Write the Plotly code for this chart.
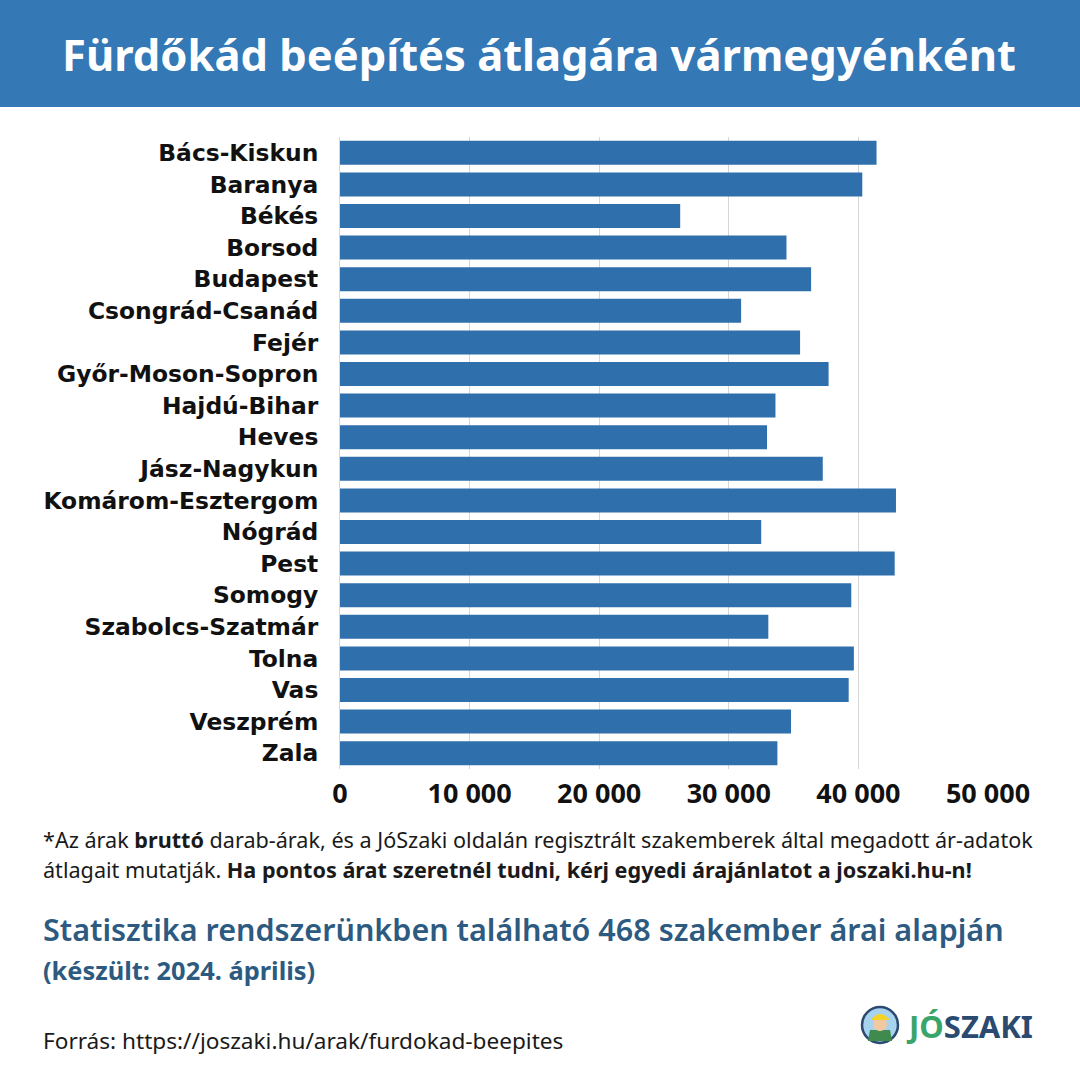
import plotly.graph_objects as go

counties = ["Bács-Kiskun", "Baranya", "Békés", "Borsod", "Budapest", "Csongrád-Csanád",
            "Fejér", "Győr-Moson-Sopron", "Hajdú-Bihar", "Heves", "Jász-Nagykun",
            "Komárom-Esztergom", "Nógrád", "Pest", "Somogy", "Szabolcs-Szatmár",
            "Tolna", "Vas", "Veszprém", "Zala"]
prices = [41400, 40300, 26250, 34450, 36350, 30950, 35500, 37700, 33600, 32950,
          37250, 42900, 32500, 42800, 39450, 33050, 39650, 39250, 34800, 33750]
tick_vals = [0, 10000, 20000, 30000, 40000, 50000]
tick_text = ["0", "10 000", "20 000", "30 000", "40 000", "50 000"]

title = "Fürdőkád beépítés átlagára vármegyénként"
note1 = "*Az árak <b>bruttó</b> darab-árak, és a JóSzaki oldalán regisztrált szakemberek által megadott ár-adatok"
note2 = "átlagait mutatják. <b>Ha pontos árat szeretnél tudni, kérj egyedi árajánlatot a joszaki.hu-n!</b>"
stat1 = "Statisztika rendszerünkben található 468 szakember árai alapján"
stat2 = "(készült: 2024. április)"
source = "Forrás: https://joszaki.hu/arak/furdokad-beepites"

W = H = 1080
L, R, T, B = 340, 988, 137, 769
FONT = "Noto Sans"

def px(x):
    return (x - L) / (R - L)

def py(y):
    return (B - y) / (B - T)

fig = go.Figure(go.Bar(
    x=prices, y=counties, orientation="h",
    marker=dict(color="#2f6fab", line=dict(width=0)),
    hoverinfo="x+y",
))

fig.update_layout(
    width=W, height=H,
    margin=dict(l=L, r=W - R, t=T, b=H - B, pad=0),
    paper_bgcolor="white", plot_bgcolor="white",
    bargap=0.24,
    showlegend=False,
    font=dict(family=FONT, color="#111111"),
    xaxis=dict(range=[0, 50000], tickvals=tick_vals, ticktext=tick_text,
               showgrid=True, gridcolor="#d6d6d6", gridwidth=1,
               zeroline=False, showline=False,
               tickfont=dict(size=27, weight=700, color="#111111"),
               ticklabelstandoff=6, fixedrange=True),
    yaxis=dict(autorange="reversed", showgrid=False, zeroline=False,
               showline=True, linecolor="#d6d6d6", linewidth=1,
               tickfont=dict(family="DejaVu Sans", size=23.4, weight=700, color="#111111"),
               ticklabelstandoff=16, fixedrange=True),
)

shapes = [
    dict(type="rect", xref="paper", yref="paper",
         x0=px(0), x1=px(W), y0=py(107), y1=py(0),
         fillcolor="#3478b5", line=dict(width=0), layer="below"),
    # logo icon
    dict(type="circle", xref="paper", yref="paper",
         x0=px(862), x1=px(898), y0=py(1043), y1=py(1007),
         fillcolor="#a8d3ef", line=dict(color="#2b4a6f", width=2.5)),
    dict(type="path", xref="paper", yref="paper",
         path=f"M {px(868)},{py(1041)} L {px(870)},{py(1030)} L {px(890)},{py(1030)} L {px(892)},{py(1041)} Z",
         fillcolor="#3e8a4f", line=dict(width=0)),
    dict(type="circle", xref="paper", yref="paper",
         x0=px(873), x1=px(887), y0=py(1031), y1=py(1017),
         fillcolor="#f1c9a0", line=dict(width=0)),
    dict(type="path", xref="paper", yref="paper",
         path=f"M {px(871)},{py(1020)} Q {px(880)},{py(1008)} {px(890)},{py(1020)} Z",
         fillcolor="#f5d327", line=dict(width=0)),
]
fig.update_layout(shapes=shapes)

def ann(text, x, y, size, color, weight=400, xanchor="left", family=FONT):
    fig.add_annotation(text=text, xref="paper", yref="paper", x=px(x), y=py(y),
                       xanchor=xanchor, yanchor="middle", showarrow=False,
                       font=dict(family=family, size=size, color=color, weight=weight))

ann(title, 539, 54, 43.5, "white", 700, "center")
ann(note1, 41, 839, 21.6, "#1a1a1a")
ann(note2, 41, 869, 21.6, "#1a1a1a")
ann(stat1, 41, 929, 30.5, "#2d5a80", 600)
ann(stat2, 41, 970, 25.4, "#2d5a80", 700)
ann(source, 41, 1040, 22.6, "#1a1a1a")
ann("<span style='color:#3aa56a'>JÓ</span><span style='color:#2b4a6f'>SZAKI</span>",
    904, 1026, 31, "#2b4a6f", 700)

fig.write_html("out.html")
